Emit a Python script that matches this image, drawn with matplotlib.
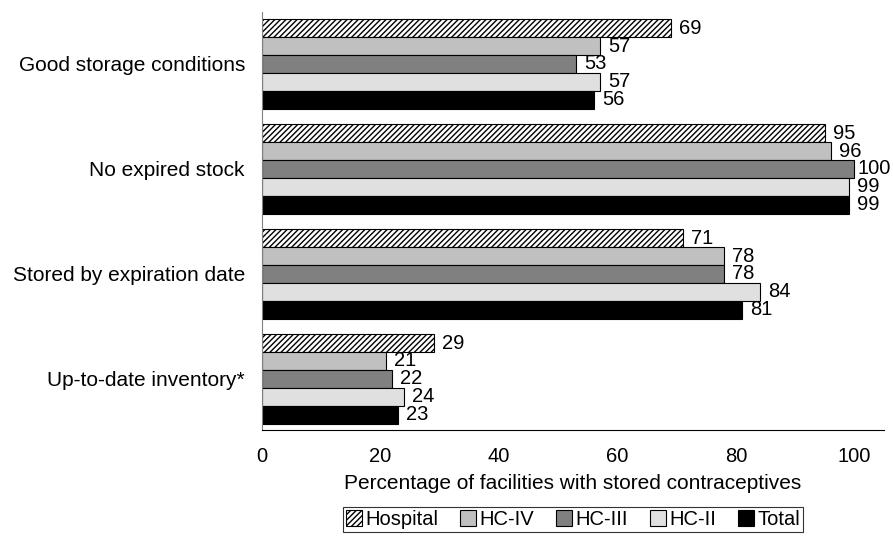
import matplotlib.pyplot as plt
import numpy as np

plt.rcParams['font.family'] = ['Liberation Sans', 'DejaVu Sans']

categories = ['Good storage conditions', 'No expired stock',
              'Stored by expiration date', 'Up-to-date inventory*']
series = ['Hospital', 'HC-IV', 'HC-III', 'HC-II', 'Total']
hospital = [69, 95, 71, 29]
hc_iv = [57, 96, 78, 21]
hc_iii = [53, 100, 78, 22]
hc_ii = [57, 99, 84, 24]
total = [56, 99, 81, 23]

values = [hospital, hc_iv, hc_iii, hc_ii, total]
colors = ['white', '#c0c0c0', '#808080', '#e0e0e0', 'black']
hatches = ['//////', None, None, None, None]

fs = 14.5
fig = plt.figure(figsize=(8.93, 5.36), dpi=100)
ax = fig.add_axes([0.2930, 0.1978, 0.697, 0.7798])

y = np.arange(len(categories))
h = 0.171
for k, (name, vals) in enumerate(zip(series, values)):
    pos = y + (k - 2) * h
    ax.barh(pos, vals, height=h, color=colors[k], edgecolor='black',
            linewidth=0.8, hatch=hatches[k], label=name)
    for p, v in zip(pos, vals):
        # the 100 label sits tight against its bar so it fits in the figure
        off = 0.5 if v >= 100 else 1.4
        ax.text(v + off, p, str(v), va='center', ha='left', fontsize=fs)

ax.set_ylim(3.486, -0.495)
ax.set_xlim(0, 105)
ax.set_yticks(y)
ax.set_yticklabels(categories, fontsize=15)
ax.set_xticks([0, 20, 40, 60, 80, 100])
ax.tick_params(axis='x', labelsize=fs, length=0, pad=12)
ax.tick_params(axis='y', length=0, pad=12)
for s in ['top', 'right']:
    ax.spines[s].set_visible(False)
ax.spines['left'].set_color('#808080')
ax.spines['bottom'].set_color('black')
ax.set_xlabel('Percentage of facilities with stored contraceptives', fontsize=15, labelpad=6)

leg = ax.legend(loc='upper center', bbox_to_anchor=(0.5, -0.184), ncol=5,
                fontsize=fs, frameon=True, fancybox=False, edgecolor='black',
                handlelength=0.8, handleheight=0.8, handletextpad=0.15,
                columnspacing=1.1, borderpad=0.15, borderaxespad=0)
leg.get_frame().set_linewidth(0.8)

fig.savefig('out.png', dpi=100)
